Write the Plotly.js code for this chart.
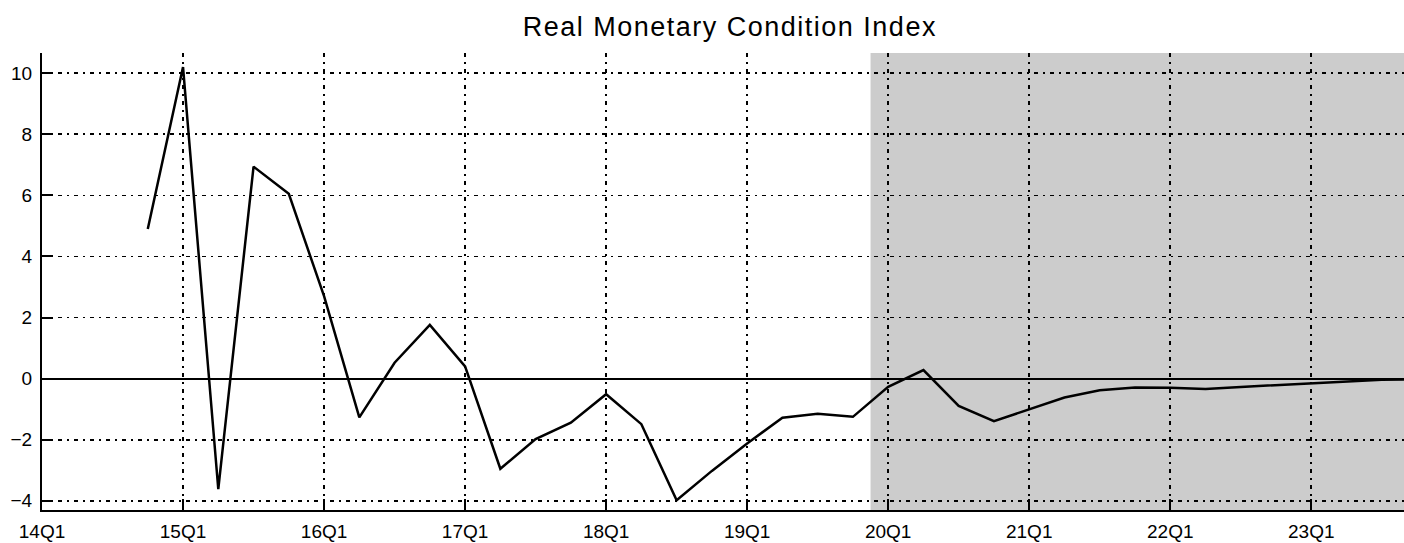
<!DOCTYPE html>
<html>
<head>
<meta charset="utf-8">
<script src="https://cdn.plot.ly/plotly-3.0.1.min.js"></script>
<style>
html,body{margin:0;padding:0;background:#fff;}
#chart{width:1404px;height:543px;}
#chart .gtitle{letter-spacing:1.5px;}
</style>
</head>
<body>
<div id="chart"></div>
<script>
const chartTitle = "Real Monetary Condition Index";
const quarters = ["14Q4","15Q1","15Q2","15Q3","15Q4","16Q1","16Q2","16Q3","16Q4",
  "17Q1","17Q2","17Q3","17Q4","18Q1","18Q2","18Q3","18Q4","19Q1","19Q2","19Q3","19Q4",
  "20Q1","20Q2","20Q3","20Q4","21Q1","21Q2","21Q3","21Q4","22Q1","22Q2","22Q3","22Q4",
  "23Q1","23Q2","23Q3","23Q4"];
const rmci = [4.9,10.2,-3.62,6.94,6.05,2.7,-1.27,0.52,1.76,
  0.4,-2.95,-1.98,-1.44,-0.51,-1.49,-3.98,-3.02,-2.12,-1.28,-1.15,-1.25,
  -0.27,0.28,-0.89,-1.39,-1.0,-0.62,-0.38,-0.29,-0.3,-0.34,-0.27,-0.21,
  -0.15,-0.09,-0.04,-0.02];
const tickLabels = ["14Q1","15Q1","16Q1","17Q1","18Q1","19Q1","20Q1","21Q1","22Q1","23Q1"];
const yTicks = [-4,-2,0,2,4,6,8,10];
const forecastStart = "19Q4"; // shading begins half a quarter after this

function qIndex(q){ const y = parseInt(q.slice(0,2),10), n = parseInt(q.slice(3),10); return (y-14)*4 + (n-1); }

const xs = quarters.map(qIndex);
const tickVals = tickLabels.map(qIndex);

const gridDash = "4px,5px,2px,5px";
const font = {family: "Liberation Sans, Arial, sans-serif", color: "#000"};

const layout = {
  width: 1404, height: 543,
  margin: {l: 42, r: 0, t: 53, b: 33},
  paper_bgcolor: "#fff", plot_bgcolor: "#fff",
  showlegend: false,
  font: Object.assign({size: 19}, font),
  title: {text: chartTitle, font: Object.assign({size: 27}, font), x: 0.505, xref: "paper", xanchor: "center", y: 0.952, yref: "container", yanchor: "middle"},
  xaxis: {
    range: [0, 38.63], tickmode: "array", tickvals: tickVals, ticktext: tickLabels,
    showline: true, linecolor: "#000", linewidth: 2, mirror: false,
    ticks: "inside", ticklen: 11, tickwidth: 2, tickcolor: "#000",
    showgrid: true, gridcolor: "#000", gridwidth: 1.6, griddash: gridDash,
    zeroline: false, tickfont: Object.assign({size: 19}, font), ticklabelstandoff: 3
  },
  yaxis: {
    range: [-4.3, 10.66], tickmode: "array", tickvals: yTicks,
    showline: true, linecolor: "#000", linewidth: 2, mirror: false,
    ticks: "inside", ticklen: 11, tickwidth: 2, tickcolor: "#000",
    showgrid: true, gridcolor: "#000", gridwidth: 1.6, griddash: gridDash,
    zeroline: true, zerolinecolor: "#000", zerolinewidth: 2,
    tickfont: Object.assign({size: 19}, font), ticklabelstandoff: 4
  },
  shapes: [{
    type: "rect", xref: "x", yref: "paper", x0: qIndex(forecastStart) + 0.5, x1: 40, y0: 0, y1: 1,
    fillcolor: "#cccccc", line: {width: 0}, layer: "below"
  }]
};

const data = [{
  type: "scatter", mode: "lines", x: xs, y: rmci, text: quarters,
  line: {color: "#000", width: 2.5}, hoverinfo: "text+y"
}];

Plotly.newPlot("chart", data, layout, {displayModeBar: false, staticPlot: true});
</script>
</body>
</html>
